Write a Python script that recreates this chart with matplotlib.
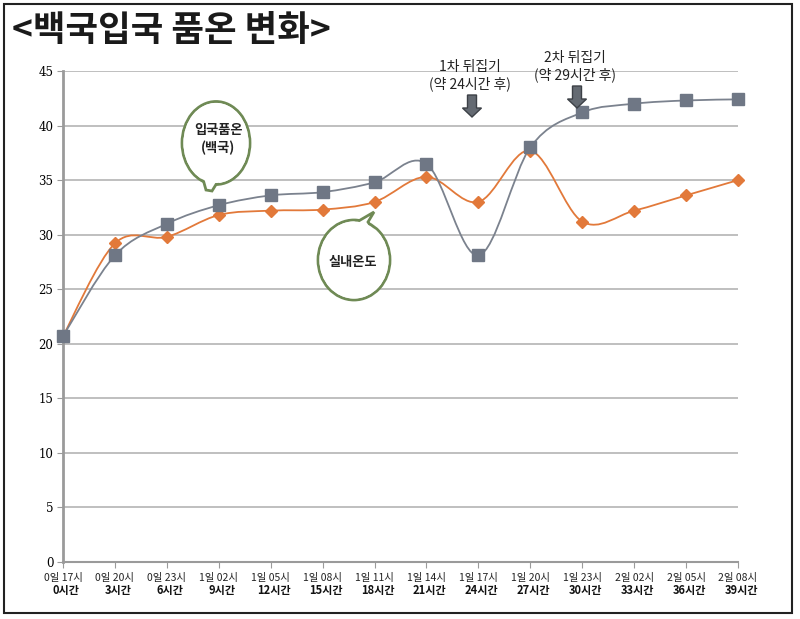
import numpy as np
import matplotlib
matplotlib.use('Agg')
import matplotlib.pyplot as plt
from matplotlib.path import Path
from matplotlib.patches import PathPatch, Ellipse, Polygon, Rectangle

plt.rcParams['font.family'] = ['Noto Sans CJK KR', 'DejaVu Sans']

# data
day_labels = ['0일 17시', '0일 20시', '0일 23시', '1일 02시', '1일 05시', '1일 08시', '1일 11시',
              '1일 14시', '1일 17시', '1일 20시', '1일 23시', '2일 02시', '2일 05시', '2일 08시']
hour_labels = ['0시간', '3시간', '6시간', '9시간', '12시간', '15시간', '18시간',
               '21시간', '24시간', '27시간', '30시간', '33시간', '36시간', '39시간']
koji_temp = [20.7, 28.1, 31.0, 32.7, 33.6, 33.9, 34.8, 36.5, 28.1, 38.0, 41.2, 42.0, 42.3, 42.4]
room_temp = [20.7, 29.2, 29.8, 31.8, 32.2, 32.3, 33.0, 35.3, 33.0, 37.7, 31.2, 32.2, 33.6, 35.0]
y_ticks = [0, 5, 10, 15, 20, 25, 30, 35, 40, 45]

GRAY = '#7b828e'
GRAY_MK = '#6f7785'
ORANGE = '#e2793a'
GREEN = '#6f8a55'
W, H = 800, 619


def fig_xy(px, py):
    # reference pixel -> figure fraction
    return px / W, 1 - py / H


def smooth_path(xs, ys):
    # excel style smoothed line (catmull-rom as cubic bezier)
    pts = np.column_stack([xs, ys]).astype(float)
    n = len(pts)
    verts = [pts[0]]
    codes = [Path.MOVETO]
    for i in range(n - 1):
        p0 = pts[max(i - 1, 0)]
        p1 = pts[i]
        p2 = pts[i + 1]
        p3 = pts[min(i + 2, n - 1)]
        verts += [p1 + (p2 - p0) / 6, p2 - (p3 - p1) / 6, p2]
        codes += [Path.CURVE4] * 3
    return Path(verts, codes)


def bubble(fig, cx, cy, w, h, tail, text, tx, ty):
    tr = fig.transFigure
    fig.patches.append(Ellipse(fig_xy(cx, cy), w / W, h / H, transform=tr,
                               facecolor='white', edgecolor=GREEN, lw=2, zorder=5))
    fig.patches.append(Polygon([fig_xy(*p) for p in tail], closed=True, transform=tr,
                               facecolor='white', edgecolor=GREEN, lw=2, zorder=6))
    fig.patches.append(Ellipse(fig_xy(cx, cy), (w - 3) / W, (h - 3) / H, transform=tr,
                               facecolor='white', edgecolor='none', zorder=7))
    fig.text(*fig_xy(tx, ty), text, ha='center', va='center', fontsize=9.5,
             fontweight='bold', linespacing=1.35, zorder=8, color='#222222')


def down_arrow(fig, cx, top, bottom):
    head = 9
    sw, hw = 4.5, 9.5
    pts = [(cx - sw, top), (cx + sw, top), (cx + sw, bottom - head), (cx + hw, bottom - head),
           (cx, bottom), (cx - hw, bottom - head), (cx - sw, bottom - head)]
    fig.patches.append(Polygon([fig_xy(*p) for p in pts], closed=True,
                               transform=fig.transFigure, facecolor='#646a72',
                               edgecolor='#3c4046', lw=1, zorder=6))


fig = plt.figure(figsize=(W / 100, H / 100), dpi=100)
ax = fig.add_axes([63 / W, 57 / H, (738 - 63) / W, (562 - 71) / H])

x = np.arange(len(koji_temp))

ax.add_patch(PathPatch(smooth_path(x, room_temp), fill=False, edgecolor=ORANGE, lw=1.3,
                       zorder=3, clip_on=False))
ax.add_patch(PathPatch(smooth_path(x, koji_temp), fill=False, edgecolor=GRAY, lw=1.3,
                       zorder=3, clip_on=False))
ax.plot(x, room_temp, ls='none', marker='D', ms=6.5, color=ORANGE, zorder=4, clip_on=False)
ax.plot(x, koji_temp, ls='none', marker='s', ms=8.5, color=GRAY_MK, zorder=4, clip_on=False)

ax.set_xlim(0, len(x) - 1)
ax.set_ylim(0, 45)
ax.set_yticks(y_ticks)
ax.set_yticklabels([str(v) for v in y_ticks], fontsize=8.5, family=['DejaVu Serif'])
ax.yaxis.grid(True, color='#b4b4b4', lw=1.2)
ax.set_axisbelow(True)
for s in ['top', 'right']:
    ax.spines[s].set_visible(False)
ax.spines['left'].set_color('#9a9a9a')
ax.spines['left'].set_linewidth(2)
ax.spines['bottom'].set_color('#9a9a9a')
ax.spines['bottom'].set_linewidth(1.5)
ax.tick_params(axis='y', length=4, color='#9a9a9a', pad=3)
ax.set_xticks(x)
ax.set_xticklabels([])
ax.tick_params(axis='x', length=4, color='#9a9a9a', direction='out')

# two-line x labels
btr = ax.get_xaxis_transform()
for i in x:
    ax.text(i, -0.022, day_labels[i], transform=btr, ha='center', va='top', fontsize=7.5,
            color='#222222')
    ax.text(i + 0.06, -0.045, hour_labels[i], transform=btr, ha='center', va='top',
            fontsize=8, fontweight='bold', color='#111111')

# title
fig.text(*fig_xy(12, 30), '<백국입국 품온 변화>', ha='left', va='center', fontsize=25.5,
         fontweight='bold', color='#1a1a1a')

# callouts
bubble(fig, 216, 143, 68, 83, [(201, 172), (206, 190), (212, 191), (220, 178)],
       '입국품온\n(백국)', 218, 139)
bubble(fig, 354, 260, 72, 80, [(350, 226), (374, 212), (368, 222), (375, 233)],
       '실내온도', 353, 262)

fig.text(*fig_xy(470, 76), '1차 뒤집기\n(약 24시간 후)', ha='center', va='center',
         fontsize=10, linespacing=1.2, color='#222222')
fig.text(*fig_xy(575, 67), '2차 뒤집기\n(약 29시간 후)', ha='center', va='center',
         fontsize=10, linespacing=1.2, color='#222222')
down_arrow(fig, 472, 95, 117)
down_arrow(fig, 577, 86, 108)

# outer frame
fig.patches.append(Rectangle(fig_xy(4, 613), 788 / W, 609 / H, transform=fig.transFigure,
                             fill=False, edgecolor='#222222', lw=1.5, zorder=1))

plt.savefig('out.png', dpi=100)
